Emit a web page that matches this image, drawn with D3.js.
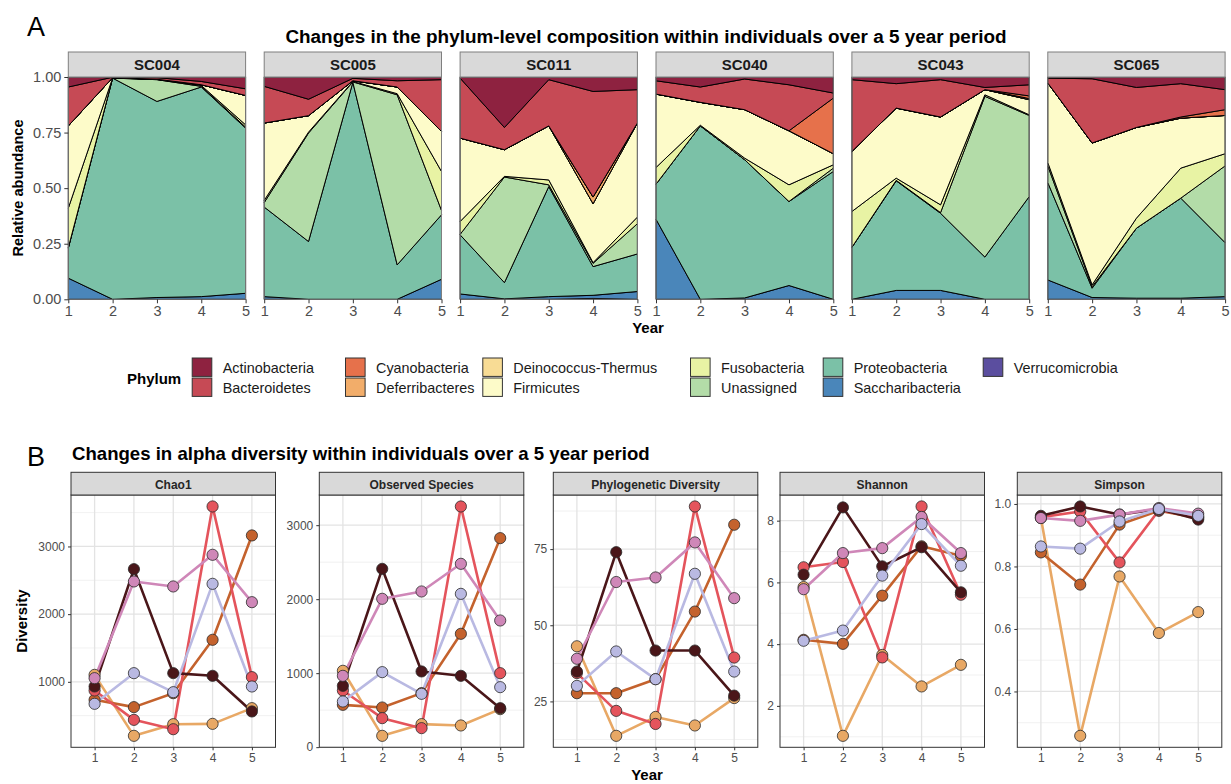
<!DOCTYPE html>
<html><head><meta charset="utf-8">
<script src="https://cdn.jsdelivr.net/npm/d3@7"></script>
<style>
body{margin:0;background:#fff;}
svg text{font-family:"Liberation Sans",Arial,Helvetica,sans-serif;}
</style>
</head><body>
<svg id="chart" width="1231" height="784"></svg>
<script>
// ---------------- DATA ----------------
const years = [1, 2, 3, 4, 5];
const phyla = ["Actinobacteria","Bacteroidetes","Cyanobacteria","Deferribacteres","Deinococcus-Thermus",
  "Firmicutes","Fusobacteria","Unassigned","Proteobacteria","Saccharibacteria","Verrucomicrobia"];
const phylumColors = ["#8E2240","#C64A55","#E6714B","#F2AD6A","#F8DC95","#FDFBC9","#E8F3A4","#B3DCA8","#7BC1A7","#4A86BA","#5B4E9F"];
const subjects = ["SC004","SC005","SC011","SC040","SC043","SC065"];

// relative abundance per phylum, years 1..5 (phyla not listed are 0)
const SC004 = {Actinobacteria:[0.045,0.001,0.003,0.020,0.053], Bacteroidetes:[0.175,0.002,0.007,0.015,0.030],
  Firmicutes:[0.370,0.001,0.001,0.003,0.132], Fusobacteria:[0.178,0.001,0.001,0.004,0.010],
  Unassigned:[0.002,0,0.098,0.003,0.005], Proteobacteria:[0.135,0.995,0.882,0.943,0.743],
  Saccharibacteria:[0.095,0,0.008,0.012,0.027]};
const SC005 = {Actinobacteria:[0.042,0.100,0.006,0.017,0.012], Bacteroidetes:[0.165,0.074,0.011,0.028,0.233],
  Firmicutes:[0.348,0.074,0.003,0.030,0.180], Fusobacteria:[0.010,0.004,0.002,0.005,0.175],
  Unassigned:[0.020,0.488,0.002,0.765,0.020], Proteobacteria:[0.403,0.260,0.976,0.155,0.290],
  Saccharibacteria:[0.012,0,0,0,0.090]};
const SC011 = {Actinobacteria:[0.005,0.227,0.012,0.065,0.057], Bacteroidetes:[0.270,0.100,0.208,0.475,0.150],
  Deferribacteres:[0,0,0,0.030,0], Firmicutes:[0.375,0.120,0.243,0.265,0.423],
  Fusobacteria:[0.058,0.003,0.022,0.003,0.030], Unassigned:[0.002,0.475,0.008,0.015,0.136],
  Proteobacteria:[0.266,0.073,0.495,0.129,0.169], Saccharibacteria:[0.024,0.002,0.012,0.014,0.035],
  Verrucomicrobia:[0,0,0,0.004,0]};
const SC040 = {Actinobacteria:[0.017,0.045,0.009,0.035,0.072], Bacteroidetes:[0.060,0.069,0.138,0.207,0.023],
  Cyanobacteria:[0,0,0,0,0.250], Firmicutes:[0.330,0.103,0.218,0.243,0.050],
  Fusobacteria:[0.075,0.003,0.007,0.075,0.015], Unassigned:[0,0,0,0,0.015],
  Proteobacteria:[0.158,0.780,0.622,0.378,0.575], Saccharibacteria:[0.360,0,0.006,0.062,0]};
const SC043 = {Actinobacteria:[0.012,0.030,0.012,0.047,0.035], Bacteroidetes:[0.323,0.110,0.168,0.010,0.050],
  Cyanobacteria:[0,0,0,0,0.012], Deferribacteres:[0,0,0,0,0.005], Firmicutes:[0.270,0.315,0.395,0.023,0.068],
  Fusobacteria:[0.161,0.010,0.035,0.007,0.003], Unassigned:[0,0.002,0.003,0.723,0.365],
  Proteobacteria:[0.234,0.493,0.347,0.190,0.462], Saccharibacteria:[0,0.040,0.040,0,0]};
const SC065 = {Actinobacteria:[0.005,0.008,0.047,0.030,0.057], Bacteroidetes:[0.022,0.289,0.180,0.150,0.090],
  Cyanobacteria:[0,0,0,0.005,0.026], Firmicutes:[0.358,0.638,0.408,0.225,0.172],
  Fusobacteria:[0.015,0.008,0.045,0.135,0.055], Unassigned:[0.075,0.007,0,0,0.345],
  Proteobacteria:[0.438,0.042,0.315,0.450,0.243], Saccharibacteria:[0.087,0.008,0.005,0.005,0.012]};
const composition = {SC004, SC005, SC011, SC040, SC043, SC065};
const abundanceTicks = [0, 0.25, 0.5, 0.75, 1];

// alpha diversity, one series per individual
const lineSeries = ["SC004","SC065","SC005","SC011","SC043","SC040"];
const lineColors = ["#E8A865","#C4622D","#E4545C","#4A1619","#CF87B8","#B9B9E2"];
const metrics = ["Chao1","Observed Species","Phylogenetic Diversity","Shannon","Simpson"];
const chao1 = [[1103,202,374,379,611],[734,626,832,1621,3163],[872,438,300,3591,1069],
  [931,2665,1128,1089,562],[1054,2483,2409,2877,2177],[675,1128,847,2448,931]];
const observed = [[1032,153,311,293,514],[572,536,730,1532,2825],[766,392,257,3253,1000],
  [829,2410,1023,964,527],[964,2005,2104,2478,1712],[617,1014,721,2072,811]];
const phylo = [[43.1,13.7,19.9,17.1,26.1],[27.7,27.7,32.3,54.5,83.0],[34.3,21.9,17.6,89.0,39.4],
  [34.8,74.0,41.7,41.7,26.9],[39.0,64.2,65.7,77.2,58.9],[30.1,41.4,32.3,66.9,34.8]];
const shannon = [[5.85,1.03,3.65,2.63,3.33],[4.14,4.01,5.57,7.17,6.86],[6.49,6.66,3.57,8.46,5.60],
  [6.25,8.43,6.52,7.14,5.68],[5.78,6.95,7.11,8.12,6.95],[4.11,4.44,6.22,7.89,6.54]];
const simpson = [[0.955,0.258,0.768,0.587,0.654],[0.845,0.742,0.934,0.978,0.955],[0.958,0.976,0.813,0.980,0.958],
  [0.962,0.992,0.966,0.984,0.950],[0.955,0.946,0.966,0.987,0.969],[0.864,0.857,0.944,0.984,0.962]];
const metricValues = [chao1, observed, phylo, shannon, simpson];
const chaoTicks = [1000,2000,3000];
const observedTicks = [0,1000,2000,3000];
const phyloTicks = [25,50,75];
const shannonTicks = [2,4,6,8];
const simpsonTicks = [0.4,0.6,0.8,1.0];
const metricTicks = [chaoTicks, observedTicks, phyloTicks, shannonTicks, simpsonTicks];
const metricFormats = [d3.format("d"), d3.format("d"), d3.format("d"), d3.format("d"), d3.format(".1f")];

// ---------------- DRAW ----------------
const svg = d3.select("#chart");
const TXT = "#1a1a1a", AXT = "#4d4d4d";

// Panel labels and titles
svg.append("text").attr("x",27).attr("y",36).attr("font-size",27).attr("fill","#000").text("A");
svg.append("text").attr("x",27).attr("y",466).attr("font-size",27).attr("fill","#000").text("B");
svg.append("text").attr("x",646).attr("y",43).attr("text-anchor","middle").attr("font-size",18.9)
  .attr("font-weight","bold").attr("fill","#000")
  .text("Changes in the phylum-level composition within individuals over a 5 year period");
svg.append("text").attr("x",72).attr("y",460).attr("font-size",18.6)
  .attr("font-weight","bold").attr("fill","#000")
  .text("Changes in alpha diversity within individuals over a 5 year period");

// ---- Panel A: stacked areas ----
const aTop = 77, aBot = 299.3, aW = 177.3;
const yA = d3.scaleLinear().domain([0,1]).range([aBot, aTop]);
const colorA = d3.scaleOrdinal().domain(phyla).range(phylumColors);
const stackA = d3.stack().keys(phyla.slice().reverse());

subjects.forEach((s, i) => {
  const x0 = 68.3 + i * 195.9;
  const xA = d3.scaleLinear().domain([1,5]).range([x0, x0 + aW]);
  const comp = composition[s];
  const rows = years.map((yr, j) => {
    const r = {year: yr};
    phyla.forEach(p => { r[p] = comp[p] ? comp[p][j] : 0; });
    return r;
  });
  const series = stackA(rows);
  const area = d3.area().x(d => xA(d.data.year)).y0(d => yA(d[0])).y1(d => yA(d[1]));
  const g = svg.append("g");
  g.selectAll("path.area").data(series).join("path")
    .attr("class","area").attr("d", area)
    .attr("fill", d => colorA(d.key))
    .attr("stroke", "#000").attr("stroke-width", 1).attr("stroke-linejoin","round");
  g.append("rect").attr("x",x0).attr("y",aTop).attr("width",aW).attr("height",aBot-aTop)
    .attr("fill","none").attr("stroke","#7f7f7f").attr("stroke-width",1);
  g.append("rect").attr("x",x0).attr("y",52).attr("width",aW).attr("height",aTop-52)
    .attr("fill","#D9D9D9").attr("stroke","#7f7f7f").attr("stroke-width",1);
  g.append("text").attr("x",x0+aW/2).attr("y",70).attr("text-anchor","middle")
    .attr("font-size",15).attr("font-weight","bold").attr("fill",TXT).text(s);
  const ax = g.append("g").attr("transform",`translate(0,${aBot})`)
    .call(d3.axisBottom(xA).tickValues(years).tickFormat(d3.format("d")).tickSize(4).tickPadding(2));
  ax.select(".domain").remove();
  ax.selectAll(".tick line").attr("stroke","#333");
  ax.selectAll(".tick text").attr("font-size",14.5).attr("fill",AXT).attr("font-family",null);
  if (i === 0) {
    const ay = g.append("g").attr("transform",`translate(${x0},0)`)
      .call(d3.axisLeft(yA).tickValues(abundanceTicks).tickFormat(d3.format(".2f")).tickSize(4).tickPadding(3));
    ay.select(".domain").remove();
    ay.selectAll(".tick line").attr("stroke","#333");
    ay.selectAll(".tick text").attr("font-size",14.5).attr("fill",AXT).attr("font-family",null);
  }
});
svg.append("text").attr("transform","translate(23,188) rotate(-90)").attr("text-anchor","middle")
  .attr("font-size",14.6).attr("font-weight","bold").attr("fill","#000").text("Relative abundance");
svg.append("text").attr("x",648).attr("y",333).attr("text-anchor","middle")
  .attr("font-size",15).attr("font-weight","bold").attr("fill","#000").text("Year");

// ---- Legend ----
svg.append("text").attr("x",127).attr("y",384).attr("font-size",15).attr("font-weight","bold")
  .attr("fill","#000").text("Phylum");
const legendColX = [191.7, 345, 482.3, 690, 822.7, 982.7];
phyla.forEach((p, k) => {
  const col = Math.floor(k / 2), row = k % 2;
  const kx = legendColX[col], ky = 357.5 + row * 20;
  svg.append("rect").attr("x",kx+0.5).attr("y",ky+0.5).attr("width",19.6).attr("height",18.4)
    .attr("fill",colorA(p)).attr("stroke","#333").attr("stroke-width",1);
  svg.append("text").attr("x",kx+31).attr("y",ky+15).attr("font-size",14.4).attr("fill",TXT).text(p);
});

// ---- Panel B: line charts ----
const bLefts = [71, 319.3, 553.3, 780, 1017.3], bW = 204.5;
const bStripTop = 472.3, bTop = 495, bBot = 747.3;
metrics.forEach((m, i) => {
  const x0 = bLefts[i];
  const xB = d3.scaleLinear().domain([0.4, 5.6]).range([x0, x0 + bW]);
  const vals = metricValues[i];
  const ext = d3.extent(vals.flat());
  const pad = (ext[1] - ext[0]) * 0.05;
  const yB = d3.scaleLinear().domain([ext[0]-pad, ext[1]+pad]).range([bBot, bTop]);
  const ticks = metricTicks[i];
  const step = ticks[1] - ticks[0];
  const minor = [];
  for (let t = ticks[0] - step/2; t <= ext[1] + pad; t += step) if (t >= ext[0]-pad) minor.push(t);
  const g = svg.append("g");
  g.append("rect").attr("x",x0).attr("y",bTop).attr("width",bW).attr("height",bBot-bTop).attr("fill","#fff");
  g.selectAll("line.minor").data(minor).join("line").attr("class","minor")
    .attr("x1",x0).attr("x2",x0+bW).attr("y1",d=>yB(d)).attr("y2",d=>yB(d))
    .attr("stroke","#EBEBEB").attr("stroke-width",0.7);
  g.selectAll("line.major").data(ticks).join("line").attr("class","major")
    .attr("x1",x0).attr("x2",x0+bW).attr("y1",d=>yB(d)).attr("y2",d=>yB(d))
    .attr("stroke","#E3E3E3").attr("stroke-width",1.3);
  g.selectAll("line.vmajor").data(years).join("line").attr("class","vmajor")
    .attr("x1",d=>xB(d)).attr("x2",d=>xB(d)).attr("y1",bTop).attr("y2",bBot)
    .attr("stroke","#E3E3E3").attr("stroke-width",1.3);
  const line = d3.line().x((d,j) => xB(years[j])).y(d => yB(d));
  g.selectAll("path.series").data(vals).join("path").attr("class","series")
    .attr("d", line).attr("fill","none").attr("stroke",(d,k)=>lineColors[k])
    .attr("stroke-width",2.6).attr("stroke-linejoin","round");
  vals.forEach((sv, k) => {
    g.selectAll(null).data(sv).join("circle")
      .attr("cx",(d,j)=>xB(years[j])).attr("cy",d=>yB(d)).attr("r",5.6)
      .attr("fill",lineColors[k]).attr("stroke","#2b2b2b").attr("stroke-width",0.8);
  });
  g.append("rect").attr("x",x0).attr("y",bTop).attr("width",bW).attr("height",bBot-bTop)
    .attr("fill","none").attr("stroke","#333").attr("stroke-width",1);
  g.append("rect").attr("x",x0).attr("y",bStripTop).attr("width",bW).attr("height",bTop-bStripTop)
    .attr("fill","#D9D9D9").attr("stroke","#333").attr("stroke-width",1);
  g.append("text").attr("x",x0+bW/2).attr("y",488.5).attr("text-anchor","middle")
    .attr("font-size",12).attr("font-weight","bold").attr("fill","#262626").text(m);
  const ax = g.append("g").attr("transform",`translate(0,${bBot})`)
    .call(d3.axisBottom(xB).tickValues(years).tickFormat(d3.format("d")).tickSize(3).tickPadding(3));
  ax.select(".domain").remove();
  ax.selectAll(".tick line").attr("stroke","#333");
  ax.selectAll(".tick text").attr("font-size",12).attr("fill",AXT).attr("font-family",null);
  const ay = g.append("g").attr("transform",`translate(${x0},0)`)
    .call(d3.axisLeft(yB).tickValues(ticks).tickFormat(metricFormats[i]).tickSize(3).tickPadding(3));
  ay.select(".domain").remove();
  ay.selectAll(".tick line").attr("stroke","#333");
  ay.selectAll(".tick text").attr("font-size",12).attr("fill",AXT).attr("font-family",null);
});
svg.append("text").attr("transform","translate(27,621) rotate(-90)").attr("text-anchor","middle")
  .attr("font-size",15).attr("font-weight","bold").attr("fill","#000").text("Diversity");
svg.append("text").attr("x",647).attr("y",780).attr("text-anchor","middle")
  .attr("font-size",15).attr("font-weight","bold").attr("fill","#000").text("Year");
</script>
</body></html>
